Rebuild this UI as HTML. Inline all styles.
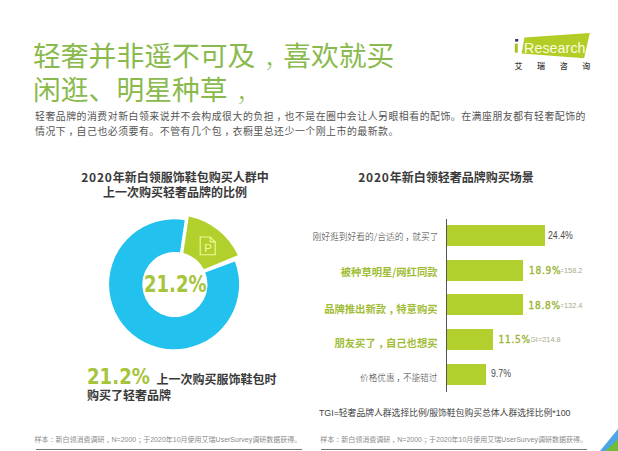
<!DOCTYPE html>
<html lang="zh-CN">
<head>
<meta charset="utf-8">
<title>轻奢并非遥不可及，喜欢就买</title>
<style>
html,body{margin:0;padding:0;background:#fff;}
body{width:618px;height:451px;position:relative;overflow:hidden;
  font-family:"Liberation Sans","Noto Sans CJK SC",sans-serif;color:#444;}
.a{position:absolute;white-space:nowrap;line-height:1;}
.cjk{font-family:"Noto Sans CJK SC","Liberation Sans",sans-serif;}
.title{left:33px;font-size:27.8px;font-weight:400;color:#8aba4d;}
.cm{position:relative;left:0.24em;}
.title .cm{font-weight:100;left:0.3em;top:2px;}
.para{left:35px;font-size:9.9px;letter-spacing:0.52px;color:#555;}
.ctitle{font-size:12px;font-weight:700;color:#3a3a3a;text-align:center;}
.ctitle .n{letter-spacing:0.8px;}
.green{color:#a5c639;}
.num{font-family:"DejaVu Sans",sans-serif;font-stretch:condensed;font-weight:700;color:#a6c43c;transform-origin:0 0;}
.lbl{font-size:8.6px;color:#3a3a3a;font-weight:300;text-align:right;}
.glbl{font-size:10.3px;font-weight:700;color:#9fbd36;text-align:right;}
.bar{position:absolute;left:447px;height:21px;background:#b1d02e;}
.val{font-size:10.2px;color:#4a4a4a;transform:scaleX(0.86);transform-origin:0 0;}
.gval{font-family:"DejaVu Sans",sans-serif;font-stretch:condensed;font-size:10px;font-weight:400;letter-spacing:0.75px;-webkit-text-stroke:0.35px #9ab536;color:#9ab536;background:#fff;padding-right:0;}
.tgi{font-size:7.4px;color:#a6ab86;}
.foot{font-size:7px;color:#8a8a8a;}
.line{position:absolute;height:1px;background:#777;}
</style>
</head>
<body>
<!-- Title -->
<div class="a cjk title" style="top:41px;">轻奢并非遥不可及<span class="cm">，</span>喜欢就买</div>
<div class="a cjk title" style="top:75px;">闲逛、明星种草<span class="cm">，</span></div>

<!-- Logo -->
<svg class="a" style="left:510px;top:28px;" width="90" height="50" viewBox="510 28 90 50">
  <polygon points="524.4,37.4 589.8,33.1 584.1,58.3 521.6,53.5" fill="#b3cc26"/>
  <rect x="515.2" y="39" width="3" height="2.6" fill="#2b3270"/>
  <rect x="514.8" y="43.6" width="3" height="9" fill="#a8bf2a"/>
</svg>
<div class="a" style="left:524.1px;top:40.5px;font-size:14.2px;color:#fbfde0;letter-spacing:0.1px;">Research</div>
<div class="a cjk" style="left:514.5px;top:62px;font-size:8px;font-weight:500;color:#3c3c3c;letter-spacing:14.6px;">艾瑞咨询</div>

<!-- Paragraph -->
<div class="a cjk para" style="top:111.9px;">轻奢品牌的消费对新白领来说并不会构成很大的负担<span class="cm">，</span>也不是在圈中会让人另眼相看的配饰。在满座朋友都有轻奢配饰的</div>
<div class="a cjk para" style="top:126.9px;">情况下<span class="cm">，</span>自己也必须要有。不管有几个包<span class="cm">，</span>衣橱里总还少一个刚上市的最新款。</div>

<!-- Left chart title -->
<div class="a cjk ctitle" style="left:75px;width:200px;top:171.3px;"><span class="n">2020</span>年新白领服饰鞋包购买人群中</div>
<div class="a cjk ctitle" style="left:75px;width:200px;top:186.3px;">上一次购买轻奢品牌的比例</div>

<!-- Donut -->
<svg class="a" style="left:0;top:0;" width="618" height="451" viewBox="0 0 618 451">
  <path d="M234.9,261.4 A65,65 0 1 1 184.7,220.2 L180,252.3 A32.6,32.6 0 1 0 205.2,272.5 Z" fill="#22c1ee"/>
  <path d="M188.8,216.4 A69.3,69.3 0 0 1 237.8,255.3 L203.9,269.3 A32.6,32.6 0 0 0 183.3,253.1 Z" fill="#b1d02c"/>
  <!-- document icon -->
  <g fill="none" stroke="#f2f99c" stroke-width="1.1">
    <path d="M200.2,237 H210.3 L215.2,241.9 V254.8 H200.2 Z"/>
    <path d="M210.3,237 V241.9 H215.2"/>
  </g>
  <text transform="translate(204.2,251.5) scale(1.15,1.02)" font-family="Liberation Sans, sans-serif" font-size="10" fill="#f2f99c">P</text>
  <!-- corner -->
  <polygon points="600,451 618,429 618,451" fill="#4ba6e6"/>
  <polygon points="605.2,451 618,439.3 618,451" fill="#6dbd37"/>
</svg>
<div class="a num" style="left:143.5px;top:273px;font-size:22.5px;transform:scaleX(0.89);">21.2%</div>

<!-- Bottom left summary -->
<div class="a num" style="left:86.5px;top:366.5px;font-size:21px;transform:scaleX(0.96);">21.2%</div>
<div class="a cjk" style="left:156.5px;top:372.9px;font-size:12px;font-weight:700;color:#3a3a3a;">上一次购买服饰鞋包时</div>
<div class="a cjk" style="left:87px;top:388.5px;font-size:12px;font-weight:700;color:#3a3a3a;">购买了轻奢品牌</div>

<!-- Right chart title -->
<div class="a cjk ctitle" style="left:346px;width:200px;top:171.3px;"><span class="n">2020</span>年新白领轻奢品牌购买场景</div>

<!-- Bar chart -->
<div class="line" style="left:446px;top:218.5px;width:1px;height:173px;background:#555;"></div>
<div class="bar" style="top:225px;width:98px;"></div>
<div class="bar" style="top:259.8px;width:75.7px;"></div>
<div class="bar" style="top:294.4px;width:75.8px;"></div>
<div class="bar" style="top:329.2px;width:45.8px;"></div>
<div class="bar" style="top:363.8px;width:39px;"></div>

<div class="a cjk lbl" style="right:179.6px;top:232.5px;font-size:8.75px;">刚好逛到好看的/合适的<span class="cm">，</span>就买了</div>
<div class="a cjk glbl" style="right:180.5px;top:266.8px;">被种草明星/网红同款</div>
<div class="a cjk glbl" style="right:180.5px;top:303.8px;">品牌推出新款<span class="cm">，</span>特意购买</div>
<div class="a cjk glbl" style="right:180.5px;top:338.3px;">朋友买了<span class="cm">，</span>自己也想买</div>
<div class="a cjk lbl" style="right:180.5px;top:373px;">价格优惠<span class="cm">，</span>不能错过</div>

<div class="a val" style="left:548.3px;top:231.1px;">24.4%</div>
<div class="a tgi" style="left:547.3px;top:266.5px;">TGI=158.2</div>
<div class="a gval" style="left:529px;top:265.5px;">18.9%</div>
<div class="a tgi" style="left:547.3px;top:301.5px;">TGI=132.4</div>
<div class="a gval" style="left:528.5px;top:300.5px;">18.8%</div>
<div class="a tgi" style="left:525.6px;top:336px;">TGI=214.8</div>
<div class="a gval" style="left:498.5px;top:335.2px;">11.5%</div>
<div class="a val" style="left:491px;top:368.9px;">9.7%</div>

<div class="a" style="left:319px;top:408.5px;font-size:8.8px;color:#444;">TGI=轻奢品牌人群选择比例/服饰鞋包购买总体人群选择比例*100</div>

<!-- Footnotes -->
<div class="a foot" style="left:34.5px;top:435.6px;">样本<span class="cm">：</span>新白领消费调研<span class="cm">，</span>N=2000<span class="cm">；</span>于2020年10月使用艾瑞UserSurvey调研数据获得。</div>
<div class="a foot" style="left:320.3px;top:435.6px;">样本<span class="cm">：</span>新白领消费调研<span class="cm">，</span>N=2000<span class="cm">；</span>于2020年10月使用艾瑞UserSurvey调研数据获得。</div>
<div class="line" style="left:36px;top:449px;width:266px;"></div>
<div class="line" style="left:321px;top:449px;width:266px;"></div>
</body>
</html>
